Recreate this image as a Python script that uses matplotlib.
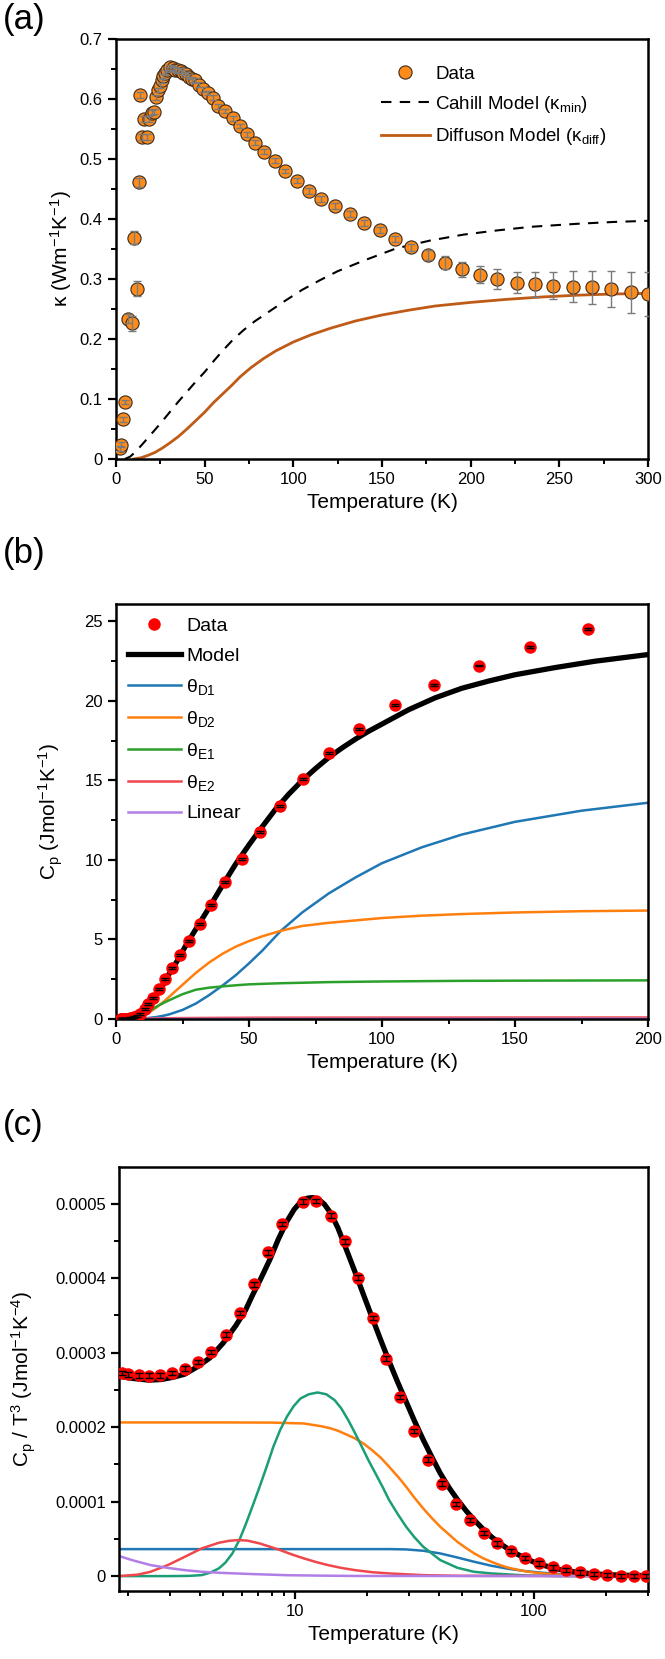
import matplotlib
matplotlib.use('Agg')
import matplotlib.pyplot as plt
from matplotlib.ticker import MultipleLocator, LogLocator, NullFormatter, FuncFormatter
import numpy as np

plt.rcParams['font.family'] = ['Liberation Sans', 'DejaVu Sans']
plt.rcParams['mathtext.fontset'] = 'custom'
plt.rcParams['mathtext.rm'] = 'Liberation Sans'
plt.rcParams['mathtext.it'] = 'Liberation Sans:italic'
plt.rcParams['mathtext.default'] = 'regular'

# ---- (a) thermal conductivity ----
T_a = [2.0, 2.6, 3.8, 5.1, 6.6, 9.0, 10.2, 11.7, 13.0, 13.6, 14.9, 16.0, 17.7, 18.6,
       20.2, 21.3, 22.4, 23.9, 24.9, 25.8, 26.7, 27.7, 29.0, 30.5, 32.0, 33.5, 35.2,
       36.5, 38.0, 39.5, 41.1, 42.7, 44.6, 46.6, 49.0, 51.9, 54.5, 57.6, 61.2, 65.9,
       70.1, 73.8, 78.5, 83.2, 89.8, 95.5, 102.0, 109.0, 115.7, 123.7, 131.8, 139.7,
       148.6, 157.3, 166.1, 175.9, 185.5, 195.3, 205.3, 215.0, 226.0, 236.2, 246.7,
       257.5, 268.2, 279.1, 290.4, 300.0]
k_a = [0.018, 0.024, 0.066, 0.095, 0.234, 0.226, 0.369, 0.284, 0.461, 0.606, 0.537,
       0.566, 0.537, 0.566, 0.577, 0.579, 0.603, 0.615, 0.622, 0.631, 0.638, 0.644,
       0.649, 0.653, 0.651, 0.649, 0.648, 0.647, 0.644, 0.641, 0.637, 0.633, 0.631,
       0.624, 0.616, 0.610, 0.602, 0.588, 0.580, 0.568, 0.555, 0.541, 0.527, 0.512,
       0.497, 0.480, 0.464, 0.447, 0.433, 0.422, 0.408, 0.394, 0.381, 0.367, 0.353,
       0.340, 0.327, 0.316, 0.307, 0.300, 0.294, 0.291, 0.289, 0.287, 0.286, 0.283,
       0.278, 0.275]
err_a = [0.004, 0.004, 0.004, 0.004, 0.008, 0.012, 0.011, 0.012, 0.008, 0.005, 0.005,
         0.005, 0.005, 0.005, 0.004, 0.004, 0.004, 0.004, 0.004, 0.004, 0.004, 0.004,
         0.004, 0.004, 0.004, 0.004, 0.004, 0.004, 0.004, 0.004, 0.004, 0.004, 0.004,
         0.004, 0.004, 0.004, 0.004, 0.004, 0.004, 0.004, 0.004, 0.004, 0.004, 0.004,
         0.004, 0.004, 0.004, 0.005, 0.005, 0.005, 0.005, 0.005, 0.005, 0.005, 0.006,
         0.009, 0.011, 0.013, 0.014, 0.016, 0.018, 0.021, 0.022, 0.026, 0.027, 0.030,
         0.034, 0.036]

T_cahill = [5, 8, 11, 15, 20, 25, 30, 35, 40, 45, 50, 55, 60, 66, 72, 78, 85, 95, 105,
            115, 125, 140, 158, 177, 196, 215, 234, 260, 280, 300]
k_cahill = [0.0, 0.004, 0.012, 0.025, 0.042, 0.059, 0.077, 0.095, 0.112, 0.129, 0.145,
            0.163, 0.180, 0.199, 0.215, 0.229, 0.243, 0.263, 0.282, 0.298, 0.313, 0.331,
            0.351, 0.364, 0.374, 0.381, 0.387, 0.392, 0.395, 0.397]

T_diff = [10, 14, 18, 22, 26, 30, 35, 40, 45, 50, 55, 60, 65, 70, 76, 83, 90, 100, 110,
          121, 135, 150, 165, 180, 200, 220, 240, 260, 280, 300]
k_diff = [0.0, 0.002, 0.006, 0.011, 0.018, 0.026, 0.037, 0.050, 0.064, 0.078, 0.094,
          0.108, 0.122, 0.137, 0.152, 0.167, 0.180, 0.195, 0.207, 0.218, 0.230, 0.240,
          0.248, 0.255, 0.261, 0.266, 0.270, 0.273, 0.275, 0.276]

# ---- (b) heat capacity ----
T_b = [1.88, 2.0, 2.21, 2.44, 2.72, 3.04, 3.45, 3.91, 4.45, 5.11, 5.87, 6.71, 7.71,
       8.85, 10.81, 12.21, 14.06, 16.14, 18.41, 21.13, 24.09, 27.48, 31.44, 35.85,
       41.16, 47.25, 54.06, 61.64, 70.29, 80.17, 91.42, 104.9, 119.7, 136.5, 155.6, 177.5]
Cp_b = [0.002, 0.002, 0.003, 0.004, 0.005, 0.008, 0.011, 0.017, 0.026, 0.043, 0.071,
        0.118, 0.20, 0.33, 0.635, 0.92, 1.34, 1.89, 2.50, 3.20, 4.00, 4.92, 6.00, 7.18,
        8.63, 10.09, 11.75, 13.41, 15.08, 16.72, 18.24, 19.74, 20.99, 22.23, 23.38, 24.50]

T_model_b = [0, 4, 6, 8, 10, 12, 14, 16, 18, 20, 23, 26, 30, 35, 40, 45, 50, 55, 60, 65,
             70, 75, 80, 85, 90, 95, 100, 110, 120, 130, 140, 150, 165, 180, 200]
Cp_model_b = [0.0, 0.03, 0.08, 0.2, 0.45, 0.8, 1.22, 1.7, 2.22, 2.85, 3.65, 4.55, 5.65,
              7.0, 8.4, 9.75, 10.95, 12.1, 13.2, 14.15, 15.0, 15.75, 16.45, 17.05, 17.6,
              18.1, 18.55, 19.45, 20.2, 20.8, 21.25, 21.65, 22.1, 22.5, 22.92]

T_comp_b = [0, 4, 6, 8, 10, 12, 15, 18, 20, 25, 30, 35, 40, 45, 50, 55, 62, 70, 80, 90,
            100, 115, 130, 150, 175, 200]
D1_b = [0, 0.002, 0.008, 0.019, 0.036, 0.063, 0.12, 0.21, 0.29, 0.57, 0.97, 1.5, 2.1,
        2.75, 3.5, 4.3, 5.55, 6.7, 7.9, 8.9, 9.8, 10.8, 11.6, 12.4, 13.1, 13.6]
D2_b = [0, 0.013, 0.045, 0.106, 0.2, 0.36, 0.7, 1.1, 1.4, 2.15, 2.9, 3.55, 4.1,
        4.55, 4.9, 5.2, 5.55, 5.85, 6.05, 6.2, 6.35, 6.5, 6.6, 6.7, 6.78, 6.82]
E1_b = [0, 0.0003, 0.004, 0.05, 0.21, 0.42, 0.76, 1.02, 1.18, 1.56, 1.84, 1.97, 2.05,
        2.12, 2.18, 2.21, 2.25, 2.28, 2.32, 2.34, 2.36, 2.38, 2.4, 2.41, 2.42, 2.43]
E2_b = [0, 0.003, 0.01, 0.016, 0.025, 0.032, 0.04, 0.046, 0.05, 0.058, 0.064, 0.068,
        0.072, 0.075, 0.078, 0.08, 0.082, 0.084, 0.086, 0.088, 0.089, 0.09, 0.091,
        0.092, 0.093, 0.094]
T_lin_b = [0, 200]
lin_b = [0.0, 0.019]

# ---- (c) Cp / T^3 ----
T_c = [1.88, 2.0, 2.21, 2.44, 2.72, 3.04, 3.45, 3.91, 4.45, 5.11, 5.87, 6.71, 7.71,
       8.85, 10.81, 12.21, 14.06, 16.14, 18.41, 21.13, 24.09, 27.48, 31.44, 35.85,
       41.16, 47.25, 54.06, 61.64, 70.29, 80.17, 91.42, 104.9, 119.7, 136.5, 155.6,
       177.5, 202.4, 230.9, 263.3, 295.3]
v_c = [0.0002726, 0.0002708, 0.0002694, 0.0002690, 0.0002694, 0.0002726, 0.0002784,
       0.0002873, 0.0003007, 0.0003240, 0.0003534, 0.0003914, 0.0004343, 0.0004727,
       0.0005027, 0.0005031, 0.0004839, 0.0004491, 0.0004004, 0.0003463, 0.0002918,
       0.0002404, 0.0001948, 0.0001564, 0.0001242, 0.0000965, 0.0000751, 0.0000581,
       0.0000438, 0.0000335, 0.0000246, 0.0000170, 0.0000116, 0.0000080, 0.0000049,
       0.0000027, 0.0000013, 0.0000004, 0.0, 0.0]

T_model_c = [1.835, 2.1, 2.44, 2.75, 3.1, 3.45, 3.9, 4.4, 5.0, 5.64, 6.2, 6.65, 7.2,
             7.84, 8.5, 9.23, 9.9, 10.53, 11.2, 11.81, 12.5, 13.25, 14.1, 15.11, 16.3,
             17.81, 19.3, 20.99, 22.8, 24.74, 26.8, 29.15, 31.6, 34.36, 37.3, 40.49, 44,
             47.71, 52, 56.23, 61, 66.26, 72, 78.08, 85, 92.04, 100, 108.4, 127.8, 150.6,
             177.5, 210, 246.6, 300]
v_model_c = [0.0002683, 0.0002652, 0.0002630, 0.0002638, 0.0002670, 0.0002710,
             0.0002810, 0.0002930, 0.0003130, 0.0003360, 0.0003570, 0.0003780,
             0.0004000, 0.0004250, 0.0004520, 0.0004760, 0.0004920, 0.0005020,
             0.0005070, 0.0005080, 0.0005060, 0.0004990, 0.0004870, 0.0004670,
             0.0004400, 0.0004080, 0.0003780, 0.0003470, 0.0003170, 0.0002880,
             0.0002610, 0.0002340, 0.0002080, 0.0001830, 0.0001600, 0.0001380,
             0.0001190, 0.0001030, 0.0000875, 0.0000752, 0.0000635, 0.0000528,
             0.0000437, 0.0000362, 0.0000295, 0.0000237, 0.0000188, 0.0000148,
             0.0000089, 0.0000052, 0.0000030, 0.0000017, 0.0000010, 0.0000006]

T_D1_c = [1.835, 25.0, 29.15, 34.36, 40.49, 47.71, 56.23, 66.26, 78.08, 92.04, 108.4,
          127.8, 177.5, 246.6, 300]
v_D1_c = [0.0000362, 0.0000362, 0.0000358, 0.0000340, 0.0000304, 0.0000250, 0.0000192,
          0.0000139, 0.0000098, 0.0000067, 0.0000045, 0.0000027, 0.0000009, 0.0000002,
          0.0]

T_D2_c = [1.835, 5.0, 8.0, 10.88, 12.82, 14.0, 15.11, 16.4, 17.81, 19.3, 20.99, 22.8,
          24.74, 27.0, 29.15, 31.6, 34.36, 37.3, 40.49, 44.0, 47.71, 52.0, 56.23, 61.0,
          66.26, 72.0, 78.08, 92.04, 108.4, 127.8, 177.5, 300]
v_D2_c = [0.0002062, 0.0002062, 0.0002060, 0.0002048, 0.0002012, 0.0001985, 0.0001950,
          0.0001900, 0.0001847, 0.0001780, 0.0001690, 0.0001590, 0.0001467, 0.0001330,
          0.0001199, 0.0001050, 0.0000908, 0.0000780, 0.0000662, 0.0000560, 0.0000461,
          0.0000375, 0.0000304, 0.0000242, 0.0000192, 0.0000148, 0.0000112, 0.0000063,
          0.0000036, 0.0000018, 0.0000004, 0.0]

T_E1_c = [1.835, 3.0, 3.6, 4.06, 4.4, 4.79, 5.1, 5.46, 5.85, 6.23, 6.65, 7.10, 7.6,
          8.10, 8.65, 9.23, 9.85, 10.53, 11.4, 12.41, 13.5, 14.63, 15.6, 16.68, 17.8,
          19.02, 20.3, 21.69, 23.2, 24.74, 26.9, 29.15, 31.6, 34.36, 40.49, 47.71, 56.0,
          66.26, 92.04, 127.8, 300]
v_E1_c = [0.0, 0.0, 0.0000003, 0.0000013, 0.0000045, 0.0000103, 0.0000180, 0.0000304,
          0.0000490, 0.0000707, 0.0000950, 0.0001199, 0.0001470, 0.0001735, 0.0001960,
          0.0002138, 0.0002280, 0.0002384, 0.0002440, 0.0002464, 0.0002440, 0.0002361,
          0.0002250, 0.0002093, 0.0001920, 0.0001735, 0.0001550, 0.0001377, 0.0001200,
          0.0001020, 0.0000830, 0.0000662, 0.0000520, 0.0000394, 0.0000215, 0.0000112,
          0.0000058, 0.0000036, 0.0000009, 0.0, 0.0]

T_E2_c = [1.835, 2.2, 2.48, 2.93, 3.45, 4.06, 4.79, 5.3, 5.74, 6.3, 7.10, 8.0, 8.65,
          9.7, 10.88, 12.2, 13.70, 15.6, 17.81, 21.0, 24.74, 34.36, 47.71, 300]
v_E2_c = [0.0, 0.0000020, 0.0000058, 0.0000148, 0.0000259, 0.0000371, 0.0000447,
          0.0000474, 0.0000483, 0.0000477, 0.0000438, 0.0000385, 0.0000349, 0.0000290,
          0.0000237, 0.0000190, 0.0000148, 0.0000110, 0.0000080, 0.0000052, 0.0000036,
          0.0000013, 0.0000004, 0.0]

T_lin_c = [1.835, 2.1, 2.48, 2.93, 3.45, 4.06, 4.79, 5.7, 6.65, 9.23, 13.0, 17.81, 300]
v_lin_c = [0.0000268, 0.0000210, 0.0000148, 0.0000110, 0.0000080, 0.0000058, 0.0000045,
           0.0000035, 0.0000027, 0.0000012, 0.0000006, 0.0000002, 0.0]

c_blue = '#1f77b4'
c_orange = '#ff7f0e'
c_green = '#2ca02c'
c_teal = '#1b9e77'
c_red = '#f0474c'
c_purple = '#b07ee6'

fig = plt.figure(figsize=(6.65, 16.59), dpi=100)
H = 1659.0
W = 665.0


def style(ax):
    for s in ax.spines.values():
        s.set_linewidth(1.8)
    ax.tick_params(which='major', direction='out', length=6, width=1.6, labelsize=12,
                   top=False, right=False)
    ax.tick_params(which='minor', direction='out', length=3.5, width=1.4,
                   top=False, right=False)


# panel a
ax1 = fig.add_axes([116 / W, 1 - 459 / H, 532 / W, 420 / H])
ax1.errorbar(T_a, k_a, yerr=err_a, fmt='none', ecolor='#7a7a7a', elinewidth=1,
             capsize=3, capthick=1, zorder=4)
d1, = ax1.plot(T_a, k_a, 'o', mfc='#ff8c1a', mec='#3b2a1c', ms=9.5, mew=0.8, zorder=3,
               label='Data')
c1, = ax1.plot(T_cahill, k_cahill, '--', color='black', lw=1.5, dashes=(5, 4),
               label='Cahill Model (κ$_{min}$)')
f1, = ax1.plot(T_diff, k_diff, '-', color='#bf5b17', lw=2,
               label='Diffuson Model (κ$_{diff}$)')
ax1.set_xlim(0, 300)
ax1.set_ylim(0, 0.7)
ax1.xaxis.set_major_locator(MultipleLocator(50))
ax1.xaxis.set_minor_locator(MultipleLocator(25))
ax1.yaxis.set_major_locator(MultipleLocator(0.1))
ax1.yaxis.set_minor_locator(MultipleLocator(0.05))
ax1.yaxis.set_major_formatter(FuncFormatter(lambda v, p: '0' if abs(v) < 1e-9 else f'{v:.1f}'))
style(ax1)
ax1.set_xlabel('Temperature (K)', fontsize=15)
ax1.set_ylabel('κ (Wm$^{-1}$K$^{-1}$)', fontsize=15, labelpad=4)
ax1.legend(handles=[d1, c1, f1], loc='upper left', bbox_to_anchor=(0.498, 0.937),
           frameon=False, fontsize=13.5, borderpad=0, borderaxespad=0, handlelength=2.6,
           handletextpad=0.3, labelspacing=0.6)

# panel b
ax2 = fig.add_axes([116 / W, 1 - 1019 / H, 532 / W, 415 / H])
ax2.errorbar(T_b, Cp_b, yerr=0.06, fmt='none', ecolor='black', elinewidth=1,
             capsize=3, capthick=1, zorder=5)
d2, = ax2.plot(T_b, Cp_b, 'o', color='#ff0000', ms=9, mew=0, zorder=4, label='Data')
m2, = ax2.plot(T_model_b, Cp_model_b, '-', color='black', lw=3.8, zorder=3, label='Model')
l1, = ax2.plot(T_comp_b, D1_b, color=c_blue, lw=1.8, label='θ$_{D1}$')
l2, = ax2.plot(T_comp_b, D2_b, color=c_orange, lw=1.8, label='θ$_{D2}$')
l3, = ax2.plot(T_comp_b, E1_b, color=c_green, lw=1.8, label='θ$_{E1}$')
l4, = ax2.plot(T_comp_b, E2_b, color=c_red, lw=1.8, label='θ$_{E2}$')
l5, = ax2.plot(T_lin_b, lin_b, color=c_purple, lw=1.8, label='Linear')
ax2.set_xlim(0, 200)
ax2.set_ylim(0, 26.1)
ax2.xaxis.set_major_locator(MultipleLocator(50))
ax2.xaxis.set_minor_locator(MultipleLocator(25))
ax2.yaxis.set_major_locator(MultipleLocator(5))
ax2.yaxis.set_minor_locator(MultipleLocator(2.5))
style(ax2)
ax2.set_xlabel('Temperature (K)', fontsize=15)
ax2.set_ylabel('C$_p$ (Jmol$^{-1}$K$^{-1}$)', fontsize=15, labelpad=14)
ax2.legend(handles=[d2, m2, l1, l2, l3, l4, l5], loc='upper left',
           bbox_to_anchor=(0.0226, 0.968), frameon=False, fontsize=14, borderpad=0,
           borderaxespad=0, handlelength=2.7, handletextpad=0.3, labelspacing=0.62)

# panel c
ax3 = fig.add_axes([119 / W, 1 - 1591 / H, 529 / W, 424 / H])
ax3.errorbar(T_c, v_c, yerr=0.000003, fmt='none', ecolor='black', elinewidth=1,
             capsize=3, capthick=1, zorder=5)
ax3.plot(T_c, v_c, 'o', color='#ff0000', ms=9, mew=0, zorder=4)
ax3.plot(T_model_c, v_model_c, '-', color='black', lw=3.8, zorder=3)
ax3.plot(T_D1_c, v_D1_c, color=c_blue, lw=1.8)
ax3.plot(T_D2_c, v_D2_c, color=c_orange, lw=1.8)
ax3.plot(T_E1_c, v_E1_c, color=c_teal, lw=1.8)
ax3.plot(T_E2_c, v_E2_c, color=c_red, lw=1.8)
ax3.plot(T_lin_c, v_lin_c, color=c_purple, lw=1.8)
ax3.set_xscale('log')
ax3.set_xlim(1.83, 300)
ax3.set_ylim(-0.00002, 0.000549)
ax3.set_xticks([10, 100])
ax3.set_xticklabels(['10', '100'])
ax3.xaxis.set_minor_locator(LogLocator(base=10, subs=np.arange(2, 10)))
ax3.xaxis.set_minor_formatter(NullFormatter())
ax3.yaxis.set_major_locator(MultipleLocator(0.0001))
ax3.yaxis.set_minor_locator(MultipleLocator(0.00005))
ax3.yaxis.set_major_formatter(FuncFormatter(lambda v, p: '0' if abs(v) < 1e-12 else f'{v:.4f}'))
style(ax3)
ax3.set_xlabel('Temperature (K)', fontsize=15)
ax3.set_ylabel('C$_p$ / T$^3$ (Jmol$^{-1}$K$^{-4}$)', fontsize=15, labelpad=12)

fig.text(3 / W, 1 - 3 / H, '(a)', fontsize=25, va='top', ha='left')
fig.text(3 / W, 1 - 537 / H, '(b)', fontsize=25, va='top', ha='left')
fig.text(3 / W, 1 - 1109 / H, '(c)', fontsize=25, va='top', ha='left')

fig.savefig('out.png', dpi=100)
